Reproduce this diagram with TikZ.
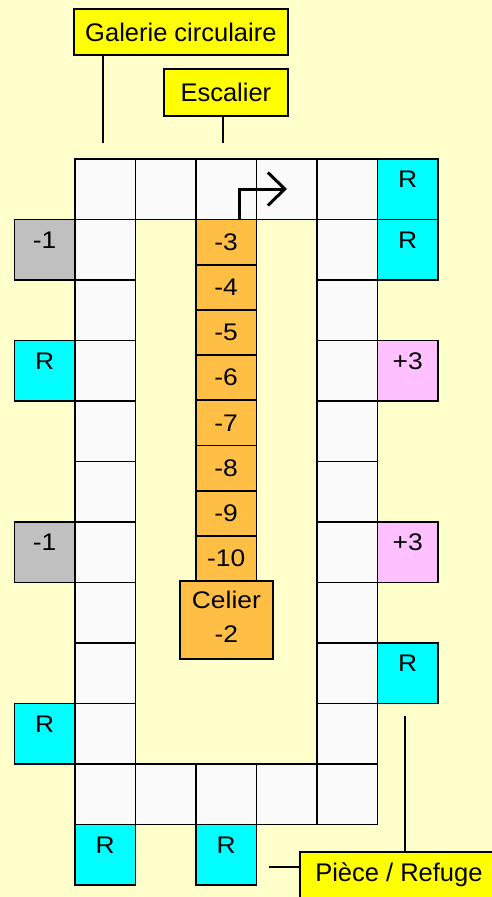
\documentclass[tikz,border=0pt]{standalone}
\usepackage{fontspec}
\setmainfont{Liberation Sans}
\newfontfamily\tilefont{Liberation Sans}[FakeStretch=1.1]
\usetikzlibrary{arrows.meta}
\definecolor{bg}{HTML}{FFFFCC}
\definecolor{cellwhite}{HTML}{FAFAFA}
\definecolor{refcyan}{HTML}{00FFFF}
\definecolor{refgray}{HTML}{C0C0C0}
\definecolor{refpink}{HTML}{FFC0FF}
\definecolor{reforange}{HTML}{FFBF45}
\definecolor{refyellow}{HTML}{FFFF00}
\begin{document}
\begin{tikzpicture}[x=1pt,y=-1pt,
  cell/.style={draw=black,line width=1.8pt,fill=cellwhite,minimum width=60.5pt,minimum height=60.5pt,inner sep=0pt,anchor=north west},
  tile/.style={cell,font=\tilefont\fontsize{24}{26}\selectfont,text height=29pt,text depth=31.5pt},
  refuge/.style={tile,fill=refcyan},
  minus/.style={tile,fill=refgray},
  plus/.style={tile,fill=refpink},
  stair/.style={draw=black,line width=1.8pt,fill=reforange,minimum width=60.5pt,minimum height=45.2pt,inner sep=0pt,anchor=north west,font=\tilefont\fontsize{24}{26}\selectfont},
  labelbox/.style={draw=black,line width=1.8pt,fill=refyellow,inner sep=0pt,anchor=north west,font=\fontsize{25.5}{29}\selectfont},
  conn/.style={draw=black,line width=1.5pt}
]
\fill[bg] (0,0) rectangle (492,897);
\useasboundingbox (0,0) rectangle (492,897);

% ring of white cells
\foreach \i in {0,...,4} {
  \node[cell] (t\i) at ({74+\i*60.5},158) {};
  \node[cell] (b\i) at ({74+\i*60.5},{158+10*60.5}) {};
}
\foreach \j in {1,...,9} {
  \node[cell] (l\j) at (74,{158+\j*60.5}) {};
  \node[cell] (r\j) at ({74+4*60.5},{158+\j*60.5}) {};
}

% outer tiles, left
\node[minus]  (ol1) at (13.5,{158+1*60.5}) {-1};
\node[refuge] (ol3) at (13.5,{158+3*60.5}) {R};
\node[minus]  (ol6) at (13.5,{158+6*60.5}) {-1};
\node[refuge] (ol9) at (13.5,{158+9*60.5}) {R};
% outer tiles, right
\node[refuge] (or0) at (376.5,158) {R};
\node[refuge] (or1) at (376.5,{158+1*60.5}) {R};
\node[plus]   (or3) at (376.5,{158+3*60.5}) {+3};
\node[plus]   (or6) at (376.5,{158+6*60.5}) {+3};
\node[refuge] (or8) at (376.5,{158+8*60.5}) {R};
% outer tiles, bottom
\node[refuge] (ob0) at (74,{158+11*60.5}) {R};
\node[refuge] (ob2) at (195,{158+11*60.5}) {R};

% staircase
\foreach \k [count=\n from 0] in {3,4,5,6,7,8,9,10} {
  \node[stair] (s\k) at (195,{218.5+\n*45.2}) {-\k};
}
\node[stair,minimum width=93pt,minimum height=78pt,align=center,font=\tilefont\fontsize{24}{34}\selectfont] (celier) at (179,580) {Celier\\-2\rule[-6pt]{0pt}{6pt}};

% arrow
\coordinate (arrstart) at (239,218.5);
\coordinate (arrtip) at (287,189);
\draw[line width=3pt,-{Straight Barb[length=17pt,width=33pt]}] (arrstart) |- (arrtip);

% labels
\node[labelbox,minimum width=214pt,minimum height=46pt] (gal) at (73,8) {Galerie circulaire};
\node[labelbox,minimum width=124pt,minimum height=47pt] (esc) at (163,68) {Escalier};
\node[labelbox,minimum width=198pt,minimum height=48pt] (piece) at (299,851) {Pièce / Refuge\strut};

\coordinate (galend) at (103,143);
\coordinate (escend) at (223,143);
\coordinate (pieceend1) at (405,716);
\coordinate (pieceend2) at (269,867);
\draw[conn] (galend |- gal.south) -- (galend);
\draw[conn] (escend |- esc.south) -- (escend);
\draw[conn] (pieceend1 |- piece.north) -- (pieceend1);
\draw[conn] (pieceend2 -| piece.west) -- (pieceend2);
\end{tikzpicture}
\end{document}
